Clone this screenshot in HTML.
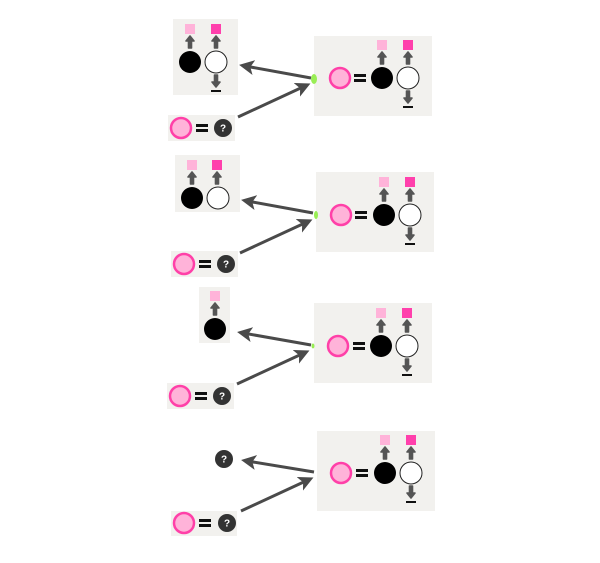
<!DOCTYPE html>
<html><head><style>html,body{margin:0;padding:0;background:#fff}svg{display:block}[fill="#555"]{stroke:#555;stroke-width:1.6;stroke-linejoin:round}</style></head><body>
<svg width="600" height="563" viewBox="0 0 600 563" xmlns="http://www.w3.org/2000/svg" font-family="Liberation Sans, sans-serif">
<defs>
<marker id="ah" markerWidth="5" markerHeight="5" refX="3" refY="2.5" orient="auto" markerUnits="strokeWidth"><path d="M0,0 L5,2.5 L0,5 L1.2,2.5 Z" fill="#4a4a4a"/></marker>
</defs>
<g id="rows">
<!-- ROW 1 -->
<g transform="translate(190,62)">
<rect x="-17" y="-43" width="65" height="76" fill="#f2f1ee"/>
<rect x="-5" y="-38" width="10" height="10" fill="#ffb3d9"/><rect x="21" y="-38" width="10" height="10" fill="#ff40ac"/>
<rect x="-1.5" y="-21" width="3" height="7" fill="#555"/><path d="M-4,-21 L4,-21 L0,-26Z" fill="#555"/>
<rect x="24.5" y="-21" width="3" height="7" fill="#555"/><path d="M22,-21 L30,-21 L26,-26Z" fill="#555"/>
<circle r="11" fill="#000"/><circle cx="26" r="11" fill="#fff" stroke="#222" stroke-width="1"/>
<rect x="24.5" y="13" width="3" height="7" fill="#555"/><path d="M22,20 L30,20 L26,25Z" fill="#555"/>
<rect x="21" y="28" width="10" height="2" fill="#111"/>
</g>
<g transform="translate(181,128)">
<rect x="-13" y="-13" width="67" height="26" fill="#f2f1ee"/>
<circle r="10" fill="#ffb3d9" stroke="#ff40a8" stroke-width="2.5"/>
<rect x="15" y="-4" width="12" height="3" fill="#111"/><rect x="15" y="1" width="12" height="3" fill="#111"/>
<circle cx="42" r="9" fill="#333"/><text x="42" y="3.5" font-size="10" font-weight="bold" fill="#fff" text-anchor="middle">?</text>
</g>
<g transform="translate(340,78)">
<rect x="-26" y="-42" width="118" height="80" fill="#f2f1ee"/>
<circle r="10" fill="#ffb3d9" stroke="#ff40a8" stroke-width="2.5"/>
<rect x="14" y="-4" width="12" height="3" fill="#111"/><rect x="14" y="1" width="12" height="3" fill="#111"/>
<rect x="37" y="-38" width="10" height="10" fill="#ffb3d9"/><rect x="63" y="-38" width="10" height="10" fill="#ff40ac"/>
<rect x="40.5" y="-21" width="3" height="7" fill="#555"/><path d="M38,-21 L46,-21 L42,-26Z" fill="#555"/>
<rect x="66.5" y="-21" width="3" height="7" fill="#555"/><path d="M64,-21 L72,-21 L68,-26Z" fill="#555"/>
<circle cx="42" r="11" fill="#000"/><circle cx="68" r="11" fill="#fff" stroke="#222" stroke-width="1"/>
<rect x="66.5" y="13" width="3" height="7" fill="#555"/><path d="M64,20 L72,20 L68,25Z" fill="#555"/>
<rect x="63" y="28" width="10" height="2" fill="#111"/>
</g>
<ellipse cx="314" cy="79" rx="3" ry="5" fill="#99ee55"/>
<line x1="311" y1="78" x2="245" y2="66" stroke="#4a4a4a" stroke-width="3" marker-end="url(#ah)"/>
<line x1="238" y1="117" x2="305" y2="86" stroke="#4a4a4a" stroke-width="3" marker-end="url(#ah)"/>

<!-- ROW 2 -->
<g transform="translate(192,198)">
<rect x="-17" y="-43" width="65" height="57" fill="#f2f1ee"/>
<rect x="-5" y="-38" width="10" height="10" fill="#ffb3d9"/><rect x="20" y="-38" width="10" height="10" fill="#ff40ac"/>
<rect x="-1.5" y="-21" width="3" height="7" fill="#555"/><path d="M-4,-21 L4,-21 L0,-26Z" fill="#555"/>
<rect x="23.5" y="-21" width="3" height="7" fill="#555"/><path d="M21,-21 L29,-21 L25,-26Z" fill="#555"/>
<circle r="11" fill="#000"/><circle cx="26" r="11" fill="#fff" stroke="#222" stroke-width="1"/>
</g>
<g transform="translate(184,264)">
<rect x="-13" y="-13" width="67" height="26" fill="#f2f1ee"/>
<circle r="10" fill="#ffb3d9" stroke="#ff40a8" stroke-width="2.5"/>
<rect x="15" y="-4" width="12" height="3" fill="#111"/><rect x="15" y="1" width="12" height="3" fill="#111"/>
<circle cx="42" r="9" fill="#333"/><text x="42" y="3.5" font-size="10" font-weight="bold" fill="#fff" text-anchor="middle">?</text>
</g>
<g transform="translate(341,215)">
<rect x="-25" y="-43" width="118" height="80" fill="#f2f1ee"/>
<circle r="10" fill="#ffb3d9" stroke="#ff40a8" stroke-width="2.5"/>
<rect x="14" y="-4" width="12" height="3" fill="#111"/><rect x="14" y="1" width="12" height="3" fill="#111"/>
<rect x="38" y="-38" width="10" height="10" fill="#ffb3d9"/><rect x="64" y="-38" width="10" height="10" fill="#ff40ac"/>
<rect x="41.5" y="-21" width="3" height="7" fill="#555"/><path d="M39,-21 L47,-21 L43,-26Z" fill="#555"/>
<rect x="67.5" y="-21" width="3" height="7" fill="#555"/><path d="M65,-21 L73,-21 L69,-26Z" fill="#555"/>
<circle cx="43" r="11" fill="#000"/><circle cx="69" r="11" fill="#fff" stroke="#222" stroke-width="1"/>
<rect x="67.5" y="13" width="3" height="7" fill="#555"/><path d="M65,20 L73,20 L69,25Z" fill="#555"/>
<rect x="64" y="28" width="10" height="2" fill="#111"/>
</g>
<ellipse cx="316" cy="215" rx="2" ry="4" fill="#99ee55"/>
<line x1="313" y1="213" x2="247" y2="201" stroke="#4a4a4a" stroke-width="3" marker-end="url(#ah)"/>
<line x1="240" y1="253" x2="307" y2="222" stroke="#4a4a4a" stroke-width="3" marker-end="url(#ah)"/>

<!-- ROW 3 -->
<g transform="translate(215,329)">
<rect x="-16" y="-42" width="31" height="56" fill="#f2f1ee"/>
<rect x="-5" y="-38" width="10" height="10" fill="#ffb3d9"/>
<rect x="-1.5" y="-21" width="3" height="7" fill="#555"/><path d="M-4,-21 L4,-21 L0,-26Z" fill="#555"/>
<circle r="11" fill="#000"/>
</g>
<g transform="translate(180,396)">
<rect x="-13" y="-13" width="67" height="26" fill="#f2f1ee"/>
<circle r="10" fill="#ffb3d9" stroke="#ff40a8" stroke-width="2.5"/>
<rect x="15" y="-4" width="12" height="3" fill="#111"/><rect x="15" y="1" width="12" height="3" fill="#111"/>
<circle cx="42" r="9" fill="#333"/><text x="42" y="3.5" font-size="10" font-weight="bold" fill="#fff" text-anchor="middle">?</text>
</g>
<g transform="translate(338,346)">
<rect x="-24" y="-43" width="118" height="80" fill="#f2f1ee"/>
<circle r="10" fill="#ffb3d9" stroke="#ff40a8" stroke-width="2.5"/>
<rect x="15" y="-4" width="12" height="3" fill="#111"/><rect x="15" y="1" width="12" height="3" fill="#111"/>
<rect x="38" y="-38" width="10" height="10" fill="#ffb3d9"/><rect x="64" y="-38" width="10" height="10" fill="#ff40ac"/>
<rect x="41.5" y="-21" width="3" height="7" fill="#555"/><path d="M39,-21 L47,-21 L43,-26Z" fill="#555"/>
<rect x="67.5" y="-21" width="3" height="7" fill="#555"/><path d="M65,-21 L73,-21 L69,-26Z" fill="#555"/>
<circle cx="43" r="11" fill="#000"/><circle cx="69" r="11" fill="#fff" stroke="#222" stroke-width="1"/>
<rect x="67.5" y="13" width="3" height="7" fill="#555"/><path d="M65,20 L73,20 L69,25Z" fill="#555"/>
<rect x="64" y="28" width="10" height="2" fill="#111"/>
</g>
<ellipse cx="313" cy="346" rx="1.5" ry="2.5" fill="#99ee55"/>
<line x1="311" y1="345" x2="243" y2="333" stroke="#4a4a4a" stroke-width="3" marker-end="url(#ah)"/>
<line x1="237" y1="384" x2="304" y2="353" stroke="#4a4a4a" stroke-width="3" marker-end="url(#ah)"/>

<!-- ROW 4 -->
<circle cx="224" cy="459" r="9" fill="#333"/><text x="224" y="462.5" font-size="10" font-weight="bold" fill="#fff" text-anchor="middle">?</text>
<g transform="translate(184,523)">
<rect x="-13" y="-12" width="66" height="25" fill="#f2f1ee"/>
<circle r="10" fill="#ffb3d9" stroke="#ff40a8" stroke-width="2.5"/>
<rect x="15" y="-4" width="12" height="3" fill="#111"/><rect x="15" y="1" width="12" height="3" fill="#111"/>
<circle cx="43" r="9" fill="#333"/><text x="43" y="3.5" font-size="10" font-weight="bold" fill="#fff" text-anchor="middle">?</text>
</g>
<g transform="translate(341,473)">
<rect x="-24" y="-42" width="118" height="80" fill="#f2f1ee"/>
<circle r="10" fill="#ffb3d9" stroke="#ff40a8" stroke-width="2.5"/>
<rect x="15" y="-4" width="12" height="3" fill="#111"/><rect x="15" y="1" width="12" height="3" fill="#111"/>
<rect x="39" y="-38" width="10" height="10" fill="#ffb3d9"/><rect x="65" y="-38" width="10" height="10" fill="#ff40ac"/>
<rect x="42.5" y="-21" width="3" height="7" fill="#555"/><path d="M40,-21 L48,-21 L44,-26Z" fill="#555"/>
<rect x="68.5" y="-21" width="3" height="7" fill="#555"/><path d="M66,-21 L74,-21 L70,-26Z" fill="#555"/>
<circle cx="44" r="11" fill="#000"/><circle cx="70" r="11" fill="#fff" stroke="#222" stroke-width="1"/>
<rect x="68.5" y="13" width="3" height="7" fill="#555"/><path d="M66,20 L74,20 L70,25Z" fill="#555"/>
<rect x="65" y="28" width="10" height="2" fill="#111"/>
</g>
<line x1="314" y1="472" x2="247" y2="461" stroke="#4a4a4a" stroke-width="3" marker-end="url(#ah)"/>
<line x1="241" y1="511" x2="308" y2="480" stroke="#4a4a4a" stroke-width="3" marker-end="url(#ah)"/>
</g>
</svg>
</body></html>
